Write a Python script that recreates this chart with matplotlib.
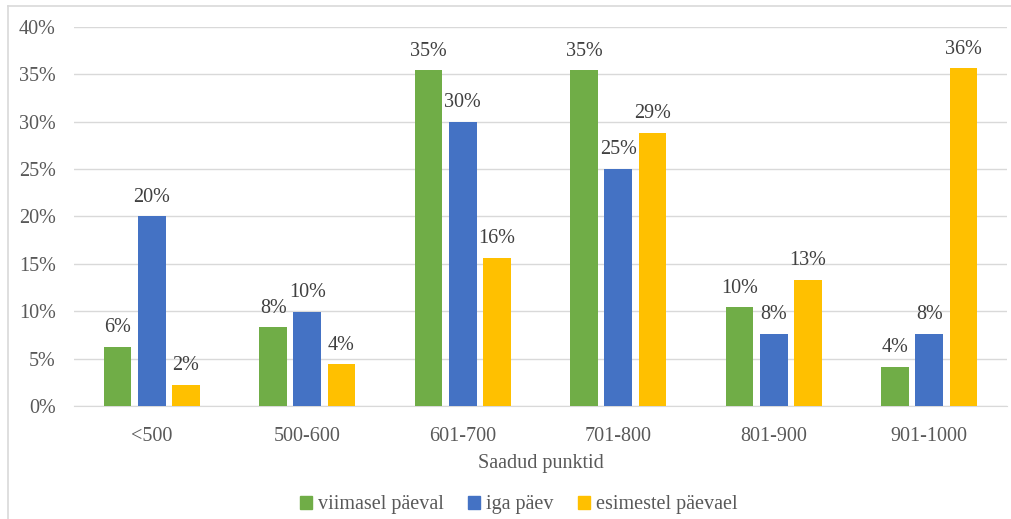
import matplotlib
matplotlib.use("Agg")
import matplotlib.pyplot as plt
import numpy as np
from matplotlib.patches import Patch
from matplotlib.lines import Line2D

plt.rcParams['font.family'] = ['Liberation Serif', 'DejaVu Serif']

categories = ["<500", "500-600", "601-700", "701-800", "801-900", "901-1000"]
series_names = ["viimasel päeval", "iga päev", "esimestel päevael"]
viimasel = [6.2, 8.3, 35.4, 35.4, 10.4, 4.1]
iga = [20.0, 9.9, 30.0, 25.0, 7.6, 7.6]
esimestel = [2.2, 4.4, 15.6, 28.8, 13.3, 35.6]
colors = ["#70AD47", "#4472C4", "#FFC000"]

text_col = "#595959"
grid_col = "#D9D9D9"
fs = 14.5

fig = plt.figure(figsize=(10.11, 5.19), dpi=100)
ax = fig.add_axes([74 / 1011, 1 - 406 / 519, (1007 - 74) / 1011, (406 - 26.7) / 519])

x = np.arange(len(categories))
width = 0.177
step = 0.219

for i, (vals, col) in enumerate(zip([viimasel, iga, esimestel], colors)):
    pos = x + (i - 1) * step
    bars = ax.bar(pos, vals, width, color=col, zorder=3)
    for b, v in zip(bars, vals):
        ax.annotate("{:.0f}%".format(v), (b.get_x() + b.get_width() / 2, v),
                    xytext=(0, 7), textcoords="offset points",
                    ha="center", va="bottom", fontsize=fs, color="#404040")

ax.set_xlim(-0.5, len(categories) - 0.5)
ax.set_ylim(0, 40)
ax.set_yticks(np.arange(0, 41, 5))
ax.set_yticklabels(["{}%".format(t) for t in range(0, 41, 5)])
ax.set_xticks(x)
ax.set_xticklabels(categories)
ax.grid(axis="y", color=grid_col, linewidth=1, zorder=0)
for s in ["top", "right", "left"]:
    ax.spines[s].set_visible(False)
ax.spines["bottom"].set_color(grid_col)
ax.tick_params(axis="both", length=0, labelsize=fs, colors=text_col)
ax.tick_params(axis="y", pad=13)
ax.tick_params(axis="x", pad=15)
ax.set_xlabel("Saadud punktid", fontsize=fs, color=text_col, labelpad=6)

handles = [Patch(color=c) for c in colors]
fig.legend(handles, series_names, loc="center", bbox_to_anchor=(519 / 1011, 1 - 505 / 519),
           ncol=3, frameon=False, fontsize=fs, handlelength=0.6, handleheight=0.6,
           handletextpad=0.3, columnspacing=1.2, labelcolor=text_col)

# chart border (left and top edges)
fig.add_artist(Line2D([8 / 1011, 8 / 1011], [0, 1 - 6 / 519], color=grid_col, lw=1.2))
fig.add_artist(Line2D([8 / 1011, 1], [1 - 6 / 519, 1 - 6 / 519], color=grid_col, lw=1.2))

fig.savefig("out.png", dpi=100)
